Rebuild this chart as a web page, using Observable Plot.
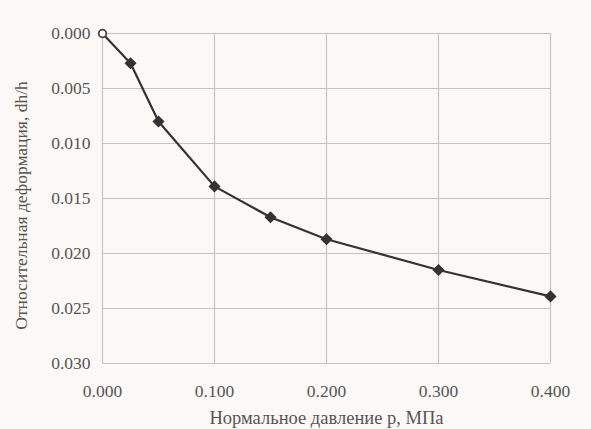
<!DOCTYPE html>
<html><head><meta charset="utf-8">
<script src="https://cdn.jsdelivr.net/npm/d3@7"></script>
<script src="https://cdn.jsdelivr.net/npm/@observablehq/plot@0.6"></script>
<style>
body{margin:0;background:#fff;}
#chart{width:591px;height:429px;}
#chart svg, #chart svg text{font-family:"Liberation Serif","DejaVu Serif",serif !important;}
</style></head><body><div id="chart"></div>
<script>
const pressure = [0, 0.025, 0.05, 0.1, 0.15, 0.2, 0.3, 0.4];
const strain = [0, 0.0027, 0.0080, 0.0139, 0.0167, 0.0187, 0.0215, 0.0239];
const xTicks = [0, 0.1, 0.2, 0.3, 0.4];
const yTicks = [0, 0.005, 0.01, 0.015, 0.02, 0.025, 0.03];
const xLabel = "Нормальное давление p, МПа";
const yLabel = "Относительная деформация, dh/h";

const data = pressure.map((p, i) => ({p, s: strain[i]}));
const chart = Plot.plot({
  width: 591, height: 429,
  marginLeft: 102, marginRight: 41, marginTop: 33, marginBottom: 66,
  style: {background: "#fcf8f5", color: "#555", fontSize: "17px", fontFamily: "'Liberation Serif', serif"},
  x: {domain: [0, 0.4], label: null},
  y: {domain: [0, 0.03], reverse: true, label: null},
  marks: [
    Plot.gridX(xTicks, {stroke: "#c4c4c4", strokeOpacity: 1, strokeWidth: 1.2}),
    Plot.gridY(yTicks, {stroke: "#c4c4c4", strokeOpacity: 1, strokeWidth: 1.2}),
    Plot.line(data, {x: "p", y: "s", stroke: "#333", strokeWidth: 2.2}),
    Plot.dot(data.slice(1), {x: "p", y: "s", symbol: "diamond2", r: 4.5, fill: "#333", stroke: "#333"}),
    Plot.dot(data.slice(0, 1), {x: "p", y: "s", symbol: "circle", r: 3.8, fill: "#fff", stroke: "#444", strokeWidth: 1.8}),
    Plot.axisX(xTicks, {tickSize: 0, tickPadding: 21, tickFormat: d3.format(".3f"), label: null, fill: "#555", fontSize: 17.5}),
    Plot.axisY(yTicks, {tickSize: 0, tickPadding: 12, tickFormat: d3.format(".3f"), label: null, fill: "#555", fontSize: 17.5}),
    Plot.text([xLabel], {frameAnchor: "bottom", dy: 60, fill: "#555", fontSize: 18.5}),
    Plot.text([yLabel], {frameAnchor: "left", textAnchor: "middle", dx: -81, dy: 7, rotate: -90, fill: "#555", fontSize: 17.5})
  ]
});
document.getElementById("chart").append(chart);
</script></body></html>
